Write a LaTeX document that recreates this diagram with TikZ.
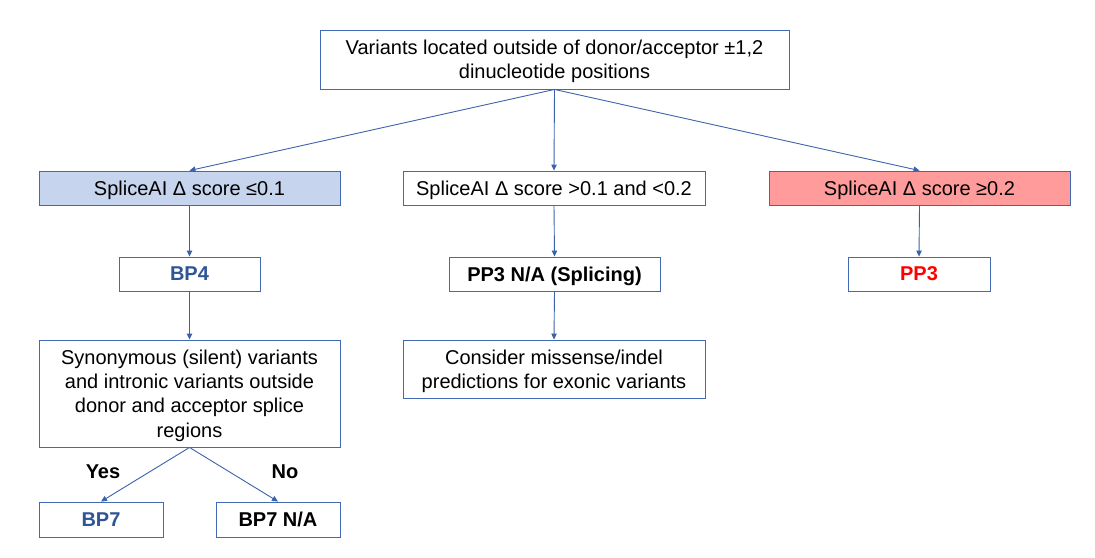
\documentclass[tikz,border=0pt]{standalone}
\usepackage{fontspec}
\setmainfont{Liberation Sans}
\usetikzlibrary{arrows.meta}
\definecolor{edge}{HTML}{416AB3}
\definecolor{line}{HTML}{3A62AA}
\definecolor{bluefill}{HTML}{C7D4EE}
\definecolor{redfill}{HTML}{FF9B9B}
\definecolor{bluetext}{HTML}{2F5597}
\definecolor{redtext}{HTML}{FF0000}
\tikzset{
  box/.style={draw=edge, line width=0.9pt, inner sep=0pt, align=center,
    text depth=0pt, font=\fontsize{20}{24.3}\selectfont},
  bbox/.style={box, font=\fontsize{20}{24.3}\selectfont\bfseries},
  conn/.style={draw=line, line width=0.9pt, -{Triangle[width=5.5pt,length=6pt]}},
  lbl/.style={font=\fontsize{20}{24.3}\selectfont\bfseries}
}
\begin{document}
\begin{tikzpicture}[x=1pt,y=-1pt]
\useasboundingbox (0,0) rectangle (1095,557);
\node[box, minimum width=469pt, minimum height=59pt] (top) at (554.5,59.5)
  {Variants located outside of donor/acceptor ±1,2\\dinucleotide positions};
\node[box, fill=bluefill, minimum width=301pt, minimum height=34pt] (left) at (189.5,188)
  {SpliceAI Δ score ≤0.1};
\node[box, minimum width=302pt, minimum height=34pt] (mid) at (554,188)
  {SpliceAI Δ score >0.1 and <0.2};
\node[box, fill=redfill, minimum width=301pt, minimum height=34pt] (right) at (919.5,188)
  {SpliceAI Δ score ≥0.2};
\node[bbox, minimum width=141pt, minimum height=34pt, text=bluetext] (bp4) at (189.5,274) {BP4};
\node[bbox, minimum width=211pt, minimum height=34pt] (pp3na) at (554.5,274) {PP3 N/A (Splicing)};
\node[bbox, minimum width=142pt, minimum height=34pt, text=redtext] (pp3) at (919,274) {PP3};
\node[box, minimum width=301pt, minimum height=107pt] (syn) at (189.5,393.5)
  {Synonymous (silent) variants\\and intronic variants outside\\donor and acceptor splice\\regions};
\node[box, minimum width=302pt, minimum height=58pt] (cons) at (554,369)
  {Consider missense/indel\\predictions for exonic variants};
\node[bbox, minimum width=124pt, minimum height=35pt, text=bluetext] (bp7) at (101,519.5) {BP7};
\node[bbox, minimum width=124pt, minimum height=35pt] (bp7na) at (278,519.5) {BP7 N/A};
\node[lbl] (yes) at (103,472) {Yes};
\node[lbl] (no) at (285,472) {No};
\draw[conn] (top.south) -- (left.north);
\draw[conn] (top.south) -- (mid.north);
\draw[conn] (top.south) -- (right.north);
\draw[conn] (left.south) -- (bp4.north);
\draw[conn] (mid.south) -- (pp3na.north);
\draw[conn] (right.south) -- (pp3.north);
\draw[conn] (bp4.south) -- (syn.north);
\draw[conn] (pp3na.south) -- (cons.north);
\draw[conn] (syn.south) -- (bp7.north);
\draw[conn] (syn.south) -- (bp7na.north);
\end{tikzpicture}
\end{document}
